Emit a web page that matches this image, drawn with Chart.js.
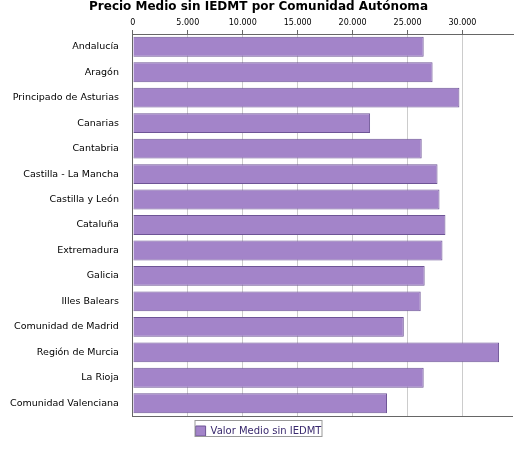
<!DOCTYPE html><html><head><meta charset="utf-8"><script src="https://cdn.jsdelivr.net/npm/chart.js@4"></script>
<style>body{margin:0;background:#fff}#w{width:525px;height:450px}</style></head><body><div id="w"><canvas id="c"></canvas></div>
<script>
const categories=["Andalucía","Aragón","Principado de Asturias","Canarias","Cantabria","Castilla - La Mancha","Castilla y León","Cataluña","Extremadura","Galicia","Illes Balears","Comunidad de Madrid","Región de Murcia","La Rioja","Comunidad Valenciana"];
const values=[26470,27280,29720,21590,26290,27730,27910,28450,28180,26560,26200,24660,33330,26470,23130];
const seriesName="Valor Medio sin IEDMT";
const fmt=v=>String(Math.round(v)).replace(/\B(?=(\d{3})+(?!\d))/g,'.');
Chart.defaults.font.family="DejaVu Sans";Chart.defaults.font.size=10;Chart.defaults.color="#000";
new Chart(document.getElementById('c'),{type:'bar',
data:{labels:categories,datasets:[{label:seriesName,data:values,backgroundColor:'#a384c9',borderColor:'#6e5596',borderWidth:1,categoryPercentage:0.78,barPercentage:1}]},
options:{indexAxis:'y',responsive:true,maintainAspectRatio:false,animation:false,
layout:{padding:{left:4,right:12,top:0,bottom:4}},
plugins:{title:{display:true,text:'Precio Medio sin IEDMT por Comunidad Autónoma',font:{size:12,weight:'bold'},padding:{top:0,bottom:2}},
legend:{position:'bottom',labels:{boxWidth:10,boxHeight:10,color:'#3a2a6e',font:{size:10}}}},
scales:{x:{position:'top',min:0,max:34600,afterBuildTicks:s=>{s.ticks=[0,5000,10000,15000,20000,25000,30000].map(v=>({value:v}));},ticks:{autoSkip:false,callback:v=>fmt(v),font:{size:8},padding:2,maxRotation:0},grid:{color:'#ccc',tickColor:'#666',tickLength:4,borderDash:[2,3]},border:{color:'#666'}},
y:{ticks:{font:{size:9.5},padding:6},grid:{display:false,tickColor:'#666'},border:{color:'#666'}}}},
plugins:[{id:'lb',afterDraw(ch){const l=ch.legend,c=ch.ctx;c.save();c.strokeStyle='#999';c.strokeRect(l.left+l.width/2-63.5,l.top+4.5,127,16);
const a=ch.chartArea;c.strokeStyle='#666';c.beginPath();c.moveTo(a.left,a.bottom+0.5);c.lineTo(a.right,a.bottom+0.5);c.stroke();c.restore();}}]});
</script></body></html>
